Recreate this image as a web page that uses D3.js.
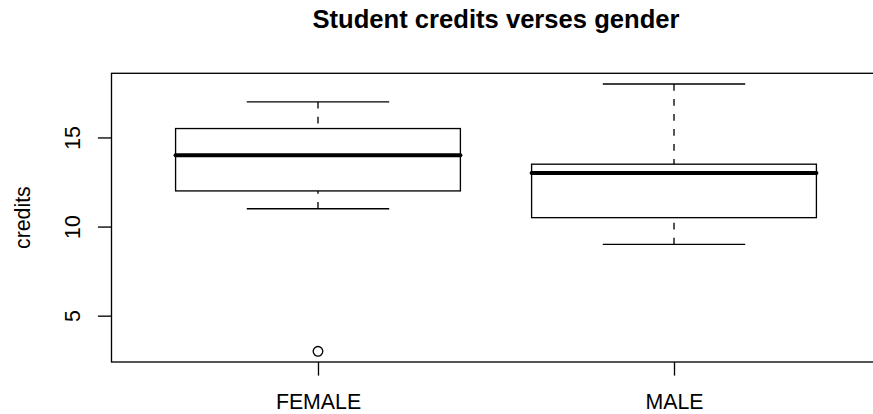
<!DOCTYPE html>
<html>
<head>
<meta charset="utf-8">
<script src="https://cdn.jsdelivr.net/npm/d3@7"></script>
<style>
  html, body { margin: 0; padding: 0; background: #fff; }
  svg { display: block; }
  text { font-family: "Liberation Sans", Arial, Helvetica, sans-serif; fill: #000; }
</style>
</head>
<body>
<svg id="chart" width="873" height="414"></svg>
<script>
// ---- data ----
const categories   = ["FEMALE", "MALE"];
const lowerWhisker = [11, 9];
const lowerHinge   = [12, 10.5];
const medians      = [14, 13];
const upperHinge   = [15.5, 13.5];
const upperWhisker = [17, 18];
const outliers     = [[3], []];
const yTicks       = [5, 10, 15];
const title = "Student credits verses gender";
const yLabel = "credits";

// ---- layout ----
const plot = { left: 111.5, right: 880.5, top: 73.3, bottom: 362 };
const lw = 1.33;
const tickLen = 13.6;

const svg = d3.select("#chart");

// R-style extended ranges (4% padding)
const xs = d3.scaleLinear().domain([0.42, 2.58]).range([plot.left, plot.right]);
const ys = d3.scaleLinear().domain([2.4, 18.6]).range([plot.bottom, plot.top]);

const boxHalf = 0.4, stapleHalf = 0.2;

const groups = categories.map((c, i) => ({
  cat: c, pos: i + 1,
  lo: lowerWhisker[i], q1: lowerHinge[i], med: medians[i],
  q3: upperHinge[i], hi: upperWhisker[i], out: outliers[i]
}));

const g = svg.append("g");

groups.forEach(d => {
  // whiskers (dashed, drawn from whisker end toward hinge)
  g.append("line")
    .attr("x1", xs(d.pos)).attr("x2", xs(d.pos))
    .attr("y1", ys(d.hi)).attr("y2", ys(d.q3))
    .attr("stroke", "#000").attr("stroke-width", lw)
    .attr("stroke-dasharray", "6.7,8.3");
  g.append("line")
    .attr("x1", xs(d.pos)).attr("x2", xs(d.pos))
    .attr("y1", ys(d.lo)).attr("y2", ys(d.q1))
    .attr("stroke", "#000").attr("stroke-width", lw)
    .attr("stroke-dasharray", "6.7,8.3");
  // staples
  [d.lo, d.hi].forEach(v => {
    g.append("line")
      .attr("x1", xs(d.pos - stapleHalf)).attr("x2", xs(d.pos + stapleHalf))
      .attr("y1", ys(v)).attr("y2", ys(v))
      .attr("stroke", "#000").attr("stroke-width", lw);
  });
  // box
  g.append("rect")
    .attr("x", xs(d.pos - boxHalf))
    .attr("y", ys(d.q3))
    .attr("width", xs(d.pos + boxHalf) - xs(d.pos - boxHalf))
    .attr("height", ys(d.q1) - ys(d.q3))
    .attr("fill", "none").attr("stroke", "#000").attr("stroke-width", lw);
  // median
  g.append("line")
    .attr("x1", xs(d.pos - boxHalf)).attr("x2", xs(d.pos + boxHalf))
    .attr("y1", ys(d.med)).attr("y2", ys(d.med))
    .attr("stroke", "#000").attr("stroke-width", 4)
    .attr("stroke-linecap", "round");
  // outliers
  d.out.forEach(v => {
    g.append("circle")
      .attr("cx", xs(d.pos)).attr("cy", ys(v)).attr("r", 4.8)
      .attr("fill", "none").attr("stroke", "#000").attr("stroke-width", lw);
  });
});

// plot frame
svg.append("rect")
  .attr("x", plot.left).attr("y", plot.top)
  .attr("width", plot.right - plot.left).attr("height", plot.bottom - plot.top)
  .attr("fill", "none").attr("stroke", "#000").attr("stroke-width", lw);

// y axis
const yAxis = d3.axisLeft(ys).tickValues(yTicks).tickSize(tickLen).tickPadding(0).tickFormat(d3.format("d"));
const ya = svg.append("g").attr("transform", `translate(${plot.left},0)`).call(yAxis);
ya.select(".domain").remove();
ya.selectAll(".tick line").attr("stroke", "#000").attr("stroke-width", lw);
ya.selectAll(".tick text")
  .attr("x", null).attr("dy", null)
  .attr("text-anchor", "middle")
  .attr("transform", `translate(${80 - plot.left},0) rotate(-90)`)
  .style("font-size", "21.3px");

// x axis
const xAxis = d3.axisBottom(xs).tickValues(groups.map(d => d.pos)).tickSize(tickLen).tickPadding(0)
  .tickFormat(v => categories[v - 1]);
const xa = svg.append("g").attr("transform", `translate(0,${plot.bottom})`).call(xAxis);
xa.select(".domain").remove();
xa.selectAll(".tick line").attr("stroke", "#000").attr("stroke-width", lw);
xa.selectAll(".tick text")
  .attr("y", 409 - plot.bottom).attr("dy", null)
  .style("font-size", "21.3px");

// title
svg.append("text")
  .attr("x", (plot.left + plot.right) / 2).attr("y", 28)
  .attr("text-anchor", "middle")
  .style("font-size", "25.6px").style("font-weight", "bold")
  .text(title);

// y label
svg.append("text")
  .attr("transform", `translate(30,${(plot.top + plot.bottom) / 2}) rotate(-90)`)
  .attr("text-anchor", "middle")
  .style("font-size", "21.3px")
  .text(yLabel);
</script>
</body>
</html>
